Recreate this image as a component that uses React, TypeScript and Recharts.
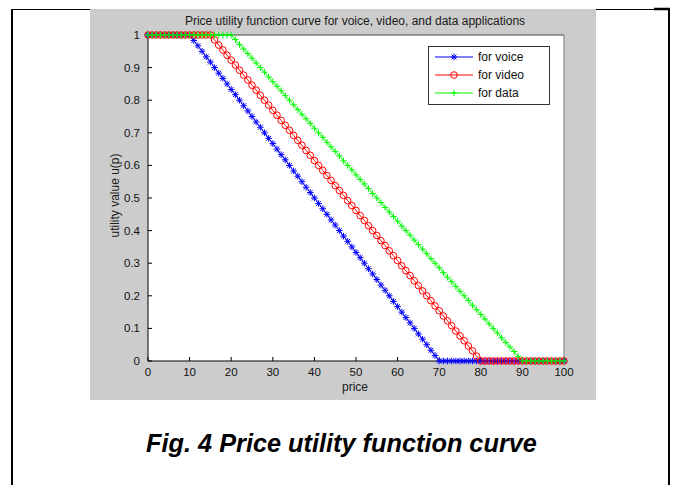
import React from 'react';
import { LineChart, Line, XAxis, YAxis, Legend } from 'recharts';

const prices = [
  0, 1, 2, 3, 4, 5, 6, 7, 8, 9, 10, 11, 12, 13, 14, 15, 16, 17, 18, 19, 20,
  21, 22, 23, 24, 25, 26, 27, 28, 29, 30, 31, 32, 33, 34, 35, 36, 37, 38, 39, 40,
  41, 42, 43, 44, 45, 46, 47, 48, 49, 50, 51, 52, 53, 54, 55, 56, 57, 58, 59, 60,
  61, 62, 63, 64, 65, 66, 67, 68, 69, 70, 71, 72, 73, 74, 75, 76, 77, 78, 79, 80,
  81, 82, 83, 84, 85, 86, 87, 88, 89, 90, 91, 92, 93, 94, 95, 96, 97, 98, 99, 100,
];

const voiceUtility = [
  1, 1, 1, 1, 1, 1, 1, 1, 1, 1, 1,
  0.983, 0.967, 0.95, 0.933, 0.917, 0.9, 0.883, 0.867, 0.85, 0.833,
  0.817, 0.8, 0.783, 0.767, 0.75, 0.733, 0.717, 0.7, 0.683, 0.667,
  0.65, 0.633, 0.617, 0.6, 0.583, 0.567, 0.55, 0.533, 0.517, 0.5,
  0.483, 0.467, 0.45, 0.433, 0.417, 0.4, 0.383, 0.367, 0.35, 0.333,
  0.317, 0.3, 0.283, 0.267, 0.25, 0.233, 0.217, 0.2, 0.183, 0.167,
  0.15, 0.133, 0.117, 0.1, 0.083, 0.067, 0.05, 0.033, 0.017, 0,
  0, 0, 0, 0, 0, 0, 0, 0, 0, 0,
  0, 0, 0, 0, 0, 0, 0, 0, 0, 0,
  0, 0, 0, 0, 0, 0, 0, 0, 0, 0,
];

const videoUtility = [
  1, 1, 1, 1, 1, 1, 1, 1, 1, 1, 1, 1, 1, 1, 1, 1,
  0.985, 0.969, 0.954, 0.938, 0.923,
  0.908, 0.892, 0.877, 0.862, 0.846, 0.831, 0.815, 0.8, 0.785, 0.769,
  0.754, 0.738, 0.723, 0.708, 0.692, 0.677, 0.662, 0.646, 0.631, 0.615,
  0.6, 0.585, 0.569, 0.554, 0.538, 0.523, 0.508, 0.492, 0.477, 0.462,
  0.446, 0.431, 0.415, 0.4, 0.385, 0.369, 0.354, 0.338, 0.323, 0.308,
  0.292, 0.277, 0.262, 0.246, 0.231, 0.215, 0.2, 0.185, 0.169, 0.154,
  0.138, 0.123, 0.108, 0.092, 0.077, 0.062, 0.046, 0.031, 0.015, 0,
  0, 0, 0, 0, 0, 0, 0, 0, 0, 0,
  0, 0, 0, 0, 0, 0, 0, 0, 0, 0,
];

const dataUtility = [
  1, 1, 1, 1, 1, 1, 1, 1, 1, 1, 1, 1, 1, 1, 1, 1, 1, 1, 1, 1, 1,
  0.986, 0.971, 0.957, 0.943, 0.929, 0.914, 0.9, 0.886, 0.871, 0.857,
  0.843, 0.829, 0.814, 0.8, 0.786, 0.771, 0.757, 0.743, 0.729, 0.714,
  0.7, 0.686, 0.671, 0.657, 0.643, 0.629, 0.614, 0.6, 0.586, 0.571,
  0.557, 0.543, 0.529, 0.514, 0.5, 0.486, 0.471, 0.457, 0.443, 0.429,
  0.414, 0.4, 0.386, 0.371, 0.357, 0.343, 0.329, 0.314, 0.3, 0.286,
  0.271, 0.257, 0.243, 0.229, 0.214, 0.2, 0.186, 0.171, 0.157, 0.143,
  0.129, 0.114, 0.1, 0.086, 0.071, 0.057, 0.043, 0.029, 0.014, 0,
  0, 0, 0, 0, 0, 0, 0, 0, 0, 0,
];

const xTicks = [0, 10, 20, 30, 40, 50, 60, 70, 80, 90, 100];
const yTicks = [0, 0.1, 0.2, 0.3, 0.4, 0.5, 0.6, 0.7, 0.8, 0.9, 1];

const seriesKeys = ['voice', 'video', 'data'];
const seriesNames = ['for voice', 'for video', 'for data'];
const seriesColors = ['#0000ff', '#ff0000', '#00ff00'];

const titleText = 'Price utility function curve for voice, video, and data applications';
const xLabel = 'price';
const yLabel = 'utility value u(p)';
const captionText = 'Fig. 4 Price utility function curve';

const FONT = '"Liberation Sans", Arial, Helvetica, sans-serif';

const chartData = prices.map((p, i) => ({
  price: p,
  voice: voiceUtility[i],
  video: videoUtility[i],
  data: dataUtility[i],
}));

function Marker({ kind, cx, cy, color }: { kind: string; cx: number; cy: number; color: string }) {
  if (cx == null || cy == null) return null;
  if (kind === 'voice') {
    const s = 3.3;
    const d = 2.4;
    return (
      <g stroke={color} strokeWidth={1} fill="none">
        <line x1={cx - s} y1={cy} x2={cx + s} y2={cy} />
        <line x1={cx} y1={cy - s} x2={cx} y2={cy + s} />
        <line x1={cx - d} y1={cy - d} x2={cx + d} y2={cy + d} />
        <line x1={cx - d} y1={cy + d} x2={cx + d} y2={cy - d} />
      </g>
    );
  }
  if (kind === 'video') {
    return <circle cx={cx} cy={cy} r={3.3} stroke={color} strokeWidth={1} fill="none" />;
  }
  const s = 3.3;
  return (
    <g stroke={color} strokeWidth={1} fill="none">
      <line x1={cx - s} y1={cy} x2={cx + s} y2={cy} />
      <line x1={cx} y1={cy - s} x2={cx} y2={cy + s} />
    </g>
  );
}

const makeDot = (kind: string, color: string) => (props: any) => (
  <Marker key={`${kind}-${props.index}`} kind={kind} cx={props.cx} cy={props.cy} color={color} />
);

const renderLegend = (props: any) => {
  const payload: any[] = props.payload || [];
  return (
    <svg width={122} height={59} style={{ display: 'block' }}>
      <rect x={0.5} y={0.5} width={121} height={58} fill="#ffffff" stroke="#333333" strokeWidth={1} />
      {seriesKeys.map((k, i) => {
        const entry = payload.find((e) => e && e.dataKey === k);
        const color = (entry && entry.color) || seriesColors[i];
        const label = (entry && entry.value) || seriesNames[i];
        const y = 11 + i * 18;
        return (
          <g key={k}>
            <line x1={7} y1={y} x2={45} y2={y} stroke={color} strokeWidth={1} />
            <Marker kind={k} cx={26} cy={y} color={color} />
            <text x={50} y={y + 4} fontSize={12} fontFamily={FONT} fill="#111111">
              {label}
            </text>
          </g>
        );
      })}
    </svg>
  );
};

export default function App() {
  return (
    <div style={{ position: 'relative', width: 673, height: 485, background: '#ffffff' }}>
      <style>{'body{margin:0;}'}</style>
      <svg width={673} height={485} style={{ position: 'absolute', left: 0, top: 0 }}>
        <rect x={90} y={9} width={506} height={391} fill="#cccccc" />
        <rect x={148} y={35} width={416} height={326} fill="#ffffff" />
        <line x1={11} y1={9.5} x2={90} y2={9.5} stroke="#000" strokeWidth={1} />
        <line x1={12} y1={9} x2={12} y2={485} stroke="#000" strokeWidth={2} />
        <line x1={596} y1={9.5} x2={655} y2={9.5} stroke="#000" strokeWidth={1} />
        <line x1={654} y1={9} x2={670} y2={9} stroke="#000" strokeWidth={2.5} />
        <line x1={669} y1={8} x2={669} y2={485} stroke="#000" strokeWidth={2} />
        <text x={355} y={25} textAnchor="middle" fontSize={12} fontFamily={FONT} fill="#1a1a1a">
          {titleText}
        </text>
        <text
          transform="translate(119,195.5) rotate(-90)"
          textAnchor="middle"
          fontSize={12}
          fontFamily={FONT}
          fill="#1a1a1a"
        >
          {yLabel}
        </text>
        <text x={355} y={391} textAnchor="middle" fontSize={12} fontFamily={FONT} fill="#1a1a1a">
          {xLabel}
        </text>
        <text
          x={341.5}
          y={452}
          textAnchor="middle"
          fontSize={25.3}
          fontWeight="bold"
          fontStyle="italic"
          fontFamily={FONT}
          fill="#000000"
        >
          {captionText}
        </text>
      </svg>
      <div style={{ position: 'absolute', left: 0, top: 0 }}>
        <LineChart
          width={673}
          height={485}
          data={chartData}
          margin={{ top: 34, right: 108, bottom: 94, left: 108 }}
        >
          <XAxis
            dataKey="price"
            type="number"
            domain={[0, 100]}
            ticks={xTicks}
            interval={0}
            height={30}
            tickSize={-4}
            tickMargin={11}
            axisLine={{ stroke: '#000000' }}
            tickLine={{ stroke: '#000000' }}
            tick={{ fill: '#111111', fontSize: 11.5, fontFamily: FONT }}
          />
          <XAxis
            xAxisId="top"
            orientation="top"
            type="number"
            domain={[0, 100]}
            ticks={xTicks}
            interval={0}
            height={1}
            tickSize={-4}
            tick={false}
            axisLine={{ stroke: '#444444' }}
            tickLine={{ stroke: '#444444' }}
          />
          <YAxis
            type="number"
            domain={[0, 1]}
            ticks={yTicks}
            interval={0}
            width={40}
            tickSize={-4}
            tickMargin={12}
            axisLine={{ stroke: '#000000' }}
            tickLine={{ stroke: '#000000' }}
            tick={{ fill: '#111111', fontSize: 11.5, fontFamily: FONT }}
          />
          <YAxis
            yAxisId="r"
            orientation="right"
            type="number"
            domain={[0, 1]}
            ticks={yTicks}
            interval={0}
            width={1}
            tickSize={-4}
            tick={false}
            axisLine={{ stroke: '#777777' }}
            tickLine={{ stroke: '#555555' }}
          />
          <Legend
            layout="vertical"
            align="center"
            verticalAlign="middle"
            content={renderLegend}
            wrapperStyle={{ position: 'absolute', left: 428, top: 46, width: 122, height: 59 }}
          />
          {seriesKeys.map((k, i) => (
            <Line
              key={k}
              type="linear"
              dataKey={k}
              name={seriesNames[i]}
              stroke={seriesColors[i]}
              strokeWidth={1}
              dot={makeDot(k, seriesColors[i])}
              activeDot={false}
              isAnimationActive={false}
            />
          ))}
        </LineChart>
      </div>
    </div>
  );
}
